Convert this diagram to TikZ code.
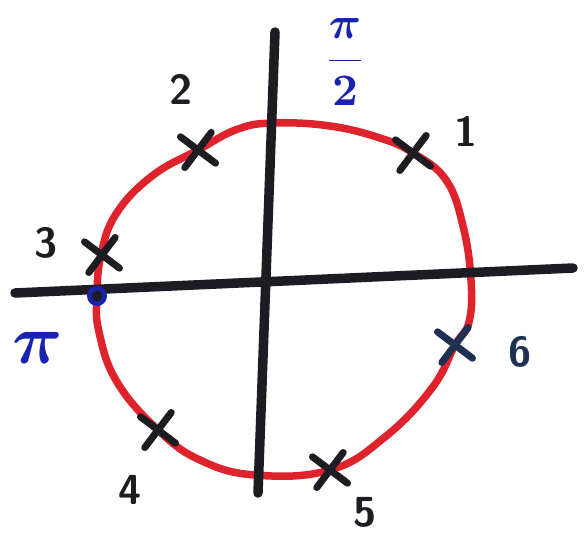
\documentclass[tikz,border=0pt]{standalone}
\usepackage{amsmath}
\usepackage{bm}
\usetikzlibrary{shapes.misc}
\definecolor{penred}{RGB}{222,35,45}
\definecolor{penblack}{RGB}{28,28,34}
\definecolor{penblue}{RGB}{25,35,175}
\definecolor{pennavy}{RGB}{32,48,82}
\tikzset{
  axisline/.style={penblack,line width=9.5pt,line cap=round},
  circline/.style={penred,line width=7.5pt,line join=round},
  xmark/.style={cross out,draw=#1,line width=7pt,minimum size=24pt,inner sep=0pt,line cap=round,rotate=8},
  xmark/.default=penblack,
  numlabel/.style={text=#1,font=\sffamily\bfseries\fontsize{42}{42}\selectfont,inner sep=0pt},
  numlabel/.default=penblack,
  mathlabel/.style={text=penblue,inner sep=0pt,scale=#1,transform shape},
}
\begin{document}
\begin{tikzpicture}[x=1pt,y=-1pt]
\useasboundingbox[fill=white] (0,0) rectangle (588,550);
% points on the circle
\coordinate (ct) at (275,123);
\coordinate (c1) at (413,153);
\coordinate (c6) at (455,345);
\coordinate (c5) at (330,470);
\coordinate (cb) at (255,475);
\coordinate (c4) at (158,430);
\coordinate (cpi) at (97,296);
\coordinate (c3) at (102,255);
\coordinate (c2) at (198,150);
\draw[circline] plot[smooth cycle,tension=0.7] coordinates {(275,123) (330,126) (380,138) (413,153) (446,180) (463,226) (471,280) (469,322) (455,345) (432,388) (385,437) (330,470) (255,475) (200,460) (158,430) (117,382) (99,332) (97,296) (101,255) (116,214) (152,176) (198,150) (238,129)};
% axes
\coordinate (hl) at (15,293);
\coordinate (hr) at (573,268);
\coordinate (vt) at (275,32);
\coordinate (vb) at (258,493);
\draw[axisline] (hl) -- (hr);
\draw[axisline] (vt) -- (vb);
% marks
\node[xmark] (x1) at (c1) {};
\node[xmark] (x2) at (c2) {};
\node[xmark] (x3) at (c3) {};
\node[xmark] (x4) at (c4) {};
\node[xmark] (x5) at (c5) {};
\node[xmark=pennavy] (x6) at (c6) {};
\fill[penblue] (cpi) circle (10pt);
\fill[penblack] (cpi) circle (5.5pt);
% labels
\node[numlabel] (l1) at (466,131) {1};
\node[numlabel] (l2) at (181,89) {2};
\node[numlabel] (l3) at (46,243) {3};
\node[numlabel] (l4) at (130,490) {4};
\node[numlabel] (l5) at (365,512) {5};
\node[numlabel=pennavy] (l6) at (520,352) {6};
\node[mathlabel=7] (lpi) at (38,348) {$\bm{\pi}$};
\node[mathlabel=4.5] (lhalf) at (345,62) {$\bm{\dfrac{\pi}{2}}$};
\end{tikzpicture}
\end{document}
